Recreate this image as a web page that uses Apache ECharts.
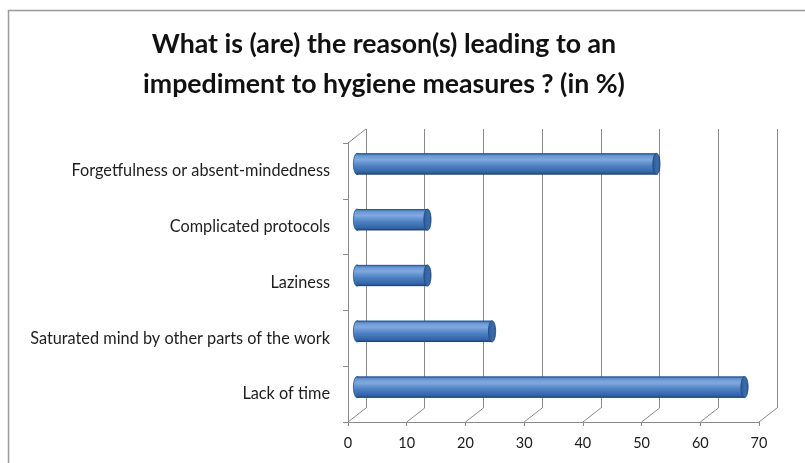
<!DOCTYPE html>
<html>
<head>
<meta charset="utf-8">
<script src="https://cdn.jsdelivr.net/npm/echarts@6/dist/echarts.min.js"></script>
<style>
  html, body { margin: 0; padding: 0; background: #ffffff; }
  #chart { width: 805px; height: 463px; }
</style>
</head>
<body>
<div id="chart"></div>
<script>
// Reasons given for not following hygiene measures (share of answers, %)
const categories = [
  'Lack of time',
  'Saturated mind by other parts of the work',
  'Laziness',
  'Complicated protocols',
  'Forgetfulness or absent-mindedness'
];
const percentages = [66, 23, 12, 12, 51];
const xTicks = [0, 10, 20, 30, 40, 50, 60, 70];
const titleText = 'What is (are) the reason(s) leading to an\nimpediment to hygiene measures ? (in %)';

// Depth offset between the front plane (axes) and the back wall
const DEPTH_X = 18, DEPTH_Y = -14;
const FONT = 'Lato, "Open Sans", sans-serif';
const GRID_COLOR = '#8a8a8a';

const chart = echarts.init(document.getElementById('chart'), null, { renderer: 'canvas' });

const frontGrid = { left: 348, top: 143, width: 411, height: 279 };
const backGrid = { left: 348 + DEPTH_X, top: 143 + DEPTH_Y, width: 411, height: 279 };
const midGrid = { left: 348 + DEPTH_X / 2, top: 143 + DEPTH_Y / 2, width: 411, height: 279 };

function valueAxis(gridIndex, opts) {
  return Object.assign({
    type: 'value', gridIndex: gridIndex, min: 0, max: 70, interval: 10,
    axisLine: { show: false }, axisTick: { show: false },
    axisLabel: { show: false }, splitLine: { show: false }
  }, opts || {});
}
function categoryAxis(gridIndex, opts) {
  return Object.assign({
    type: 'category', gridIndex: gridIndex, data: categories,
    axisLine: { show: false }, axisTick: { show: false },
    axisLabel: { show: false }, splitLine: { show: false }
  }, opts || {});
}

// Cylinder bar: body with a vertical shading gradient and elliptical caps
function renderCylinder(params, api) {
  const idx = api.value(1);
  const start = api.coord([0, idx]);
  const end = api.coord([api.value(0), idx]);
  const h = api.size([0, 1])[1] * 0.38;
  const ry = h / 2, rx = 3.6;
  const y0 = start[1] - ry;
  const body = new echarts.graphic.LinearGradient(0, 0, 0, 1, [
    { offset: 0, color: '#2f5d97' },
    { offset: 0.12, color: '#6a97d3' },
    { offset: 0.3, color: '#80a9df' },
    { offset: 0.6, color: '#4d80c2' },
    { offset: 0.88, color: '#3466a6' },
    { offset: 1, color: '#21487c' }
  ]);
  return {
    type: 'group',
    children: [
      {
        type: 'ellipse',
        shape: { cx: start[0], cy: start[1], rx: rx, ry: ry },
        style: { fill: body, stroke: '#244f86', lineWidth: 0.8 }
      },
      {
        type: 'rect',
        shape: { x: start[0], y: y0, width: end[0] - start[0], height: h },
        style: { fill: body }
      },
      {
        type: 'line',
        shape: { x1: start[0], y1: y0 + 0.4, x2: end[0], y2: y0 + 0.4 },
        style: { stroke: '#2b5891', lineWidth: 0.8 }
      },
      {
        type: 'line',
        shape: { x1: start[0], y1: y0 + h - 0.4, x2: end[0], y2: y0 + h - 0.4 },
        style: { stroke: '#1f4576', lineWidth: 0.8 }
      },
      {
        type: 'ellipse',
        shape: { cx: end[0], cy: end[1], rx: rx, ry: ry },
        style: {
          fill: new echarts.graphic.LinearGradient(0, 0, 1, 0, [
            { offset: 0, color: '#2b5a96' },
            { offset: 0.6, color: '#3b6cad' },
            { offset: 1, color: '#2d5b95' }
          ]),
          stroke: '#1f4576', lineWidth: 0.8
        }
      }
    ]
  };
}

// Floor: diagonal lines joining each front tick to the back wall grid line
function renderFloor(params, api) {
  const cs = params.coordSys;
  const x = api.coord([api.value(0), 0])[0];
  const yb = cs.y + cs.height;
  return {
    type: 'line',
    shape: { x1: x, y1: yb, x2: x + DEPTH_X, y2: yb + DEPTH_Y },
    style: { stroke: GRID_COLOR, lineWidth: 1 }
  };
}

// Left wall top edge
function renderWallEdge(params, api) {
  const cs = params.coordSys;
  return {
    type: 'line',
    shape: { x1: cs.x, y1: cs.y, x2: cs.x + DEPTH_X, y2: cs.y + DEPTH_Y },
    style: { stroke: GRID_COLOR, lineWidth: 1 }
  };
}

chart.setOption({
  backgroundColor: '#ffffff',
  animation: false,
  grid: [frontGrid, backGrid, midGrid],
  xAxis: [
    valueAxis(0, {
      axisLine: { show: true, lineStyle: { color: GRID_COLOR, width: 1 } },
      axisTick: { show: true, length: 4, lineStyle: { color: GRID_COLOR } },
      axisLabel: { show: true, margin: 14, color: '#1a1a1a', fontSize: 14.5, fontFamily: FONT }
    }),
    valueAxis(1, {
      splitLine: { show: true, lineStyle: { color: GRID_COLOR, width: 1 } }
    }),
    valueAxis(2)
  ],
  yAxis: [
    categoryAxis(0, {
      axisLine: { show: true, lineStyle: { color: GRID_COLOR, width: 1 } },
      axisTick: { show: true, length: 5, lineStyle: { color: GRID_COLOR } },
      axisLabel: { show: true, margin: 18, color: '#1e1e1e', fontSize: 16.3, fontFamily: FONT }
    }),
    categoryAxis(1),
    categoryAxis(2)
  ],
  graphic: [
    {
      type: 'rect',
      shape: { x: 8.5, y: 10.5, width: 820, height: 480 },
      style: { fill: 'none', stroke: '#9a9a9a', lineWidth: 1.5 },
      silent: true
    },
    {
      type: 'text',
      x: 384, y: 64,
      style: {
        text: titleText,
        font: 'bold 26.7px ' + FONT,
        fill: '#111',
        textAlign: 'center',
        textVerticalAlign: 'middle',
        lineHeight: 40
      }
    }
  ],
  series: [
    {
      type: 'custom', name: 'floor',
      xAxisIndex: 0, yAxisIndex: 0,
      renderItem: renderFloor,
      data: xTicks.map(v => [v, 0]),
      silent: true, z: 1
    },
    {
      type: 'custom', name: 'wall',
      xAxisIndex: 0, yAxisIndex: 0,
      renderItem: renderWallEdge,
      data: [[0, 0]],
      silent: true, z: 1
    },
    {
      type: 'custom', name: 'Reasons (%)',
      xAxisIndex: 2, yAxisIndex: 2,
      renderItem: renderCylinder,
      data: percentages.map((v, i) => [v, i]),
      encode: { x: 0, y: 1 },
      z: 3
    }
  ]
});
</script>
</body>
</html>
